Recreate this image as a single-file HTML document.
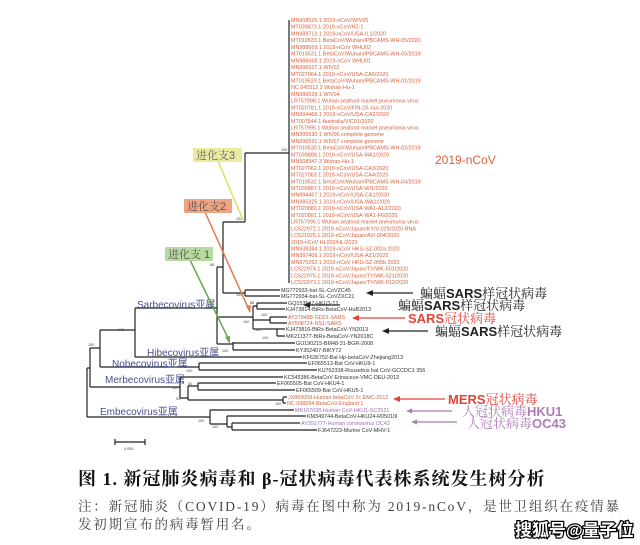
<!DOCTYPE html>
<html><head><meta charset="utf-8"><style>
body{margin:0;background:#fff;}
svg{display:block}
.l{font-family:"Liberation Sans",sans-serif;font-size:5.4px;}
.r{fill:#d8603c}
.k{fill:#333}
.p{fill:#a070b0}
.b{font-family:"Liberation Sans",sans-serif;font-size:3.8px;fill:#444}
.c{font-family:"Liberation Sans","Noto Sans CJK SC",sans-serif;font-size:10px;fill:#4a4f8f}
.a{font-family:"Liberation Sans","Noto Serif CJK SC",serif;font-size:13px}
</style></head><body>
<svg width="640" height="545" viewBox="0 0 640 545" xmlns="http://www.w3.org/2000/svg">
<g stroke="#222" stroke-width="1.2" fill="none">
<path d="M289 20V283 M245 153H289 M245 153V222 M223 222H245 M223 222V293 M223 293H245 M245 290V296 M245 290H280 M245 296H280"/>
<path d="M217 267H223 M217 267V344 M135 308H217"/>
<path d="M217 317H253 M253 306V329 M253 306H257 M257 303V309 M257 303H287 M257 309H285 M253 320H270 M270 317V323 M270 317H287 M270 323H287 M253 329H277 M277 329V336 M277 329H285 M277 336H285"/>
<path d="M217 344H233 M233 342V350 M233 343H295 M233 350H295 M135 308V357 M135 357H302"/>
<path d="M100 330H135 M100 330V367 M100 367H199 M199 363V370 M199 363H307 M199 370H317"/>
<path d="M90 348H100 M90 348V387 M87 368H90 M87 368V417"/>
<path d="M90 387H180 M180 377V398 M180 377H283 M180 398H188 M188 386V400 M188 386H198 M198 383V390 M198 383H276 M198 390H295 M188 400H283 M283 397V403 M283 397H287 M283 403H286"/>
<path d="M87 417H210 M210 410V424 M210 410H294 M210 424H227 M227 416V427 M227 416H306 M227 427H232 M232 423V430 M232 423H300 M232 430H317"/>
<path d="M115 442H145 M115 439V445 M145 439V445"/>
</g>
<text x="124" y="450" class="b">0.050</text>
<g class="b">
<text x="281" y="151">100</text><text x="236" y="220">100</text><text x="210" y="266">88</text><text x="207" y="306">100</text>
<text x="236" y="296">100</text><text x="250" y="304">88</text><text x="243" y="323">100</text><text x="255" y="331">100</text><text x="261" y="316">100</text><text x="262" y="339">100</text><text x="222" y="352">100</text>
<text x="118" y="331">100</text><text x="88" y="346">100</text><text x="186" y="372">100</text><text x="172" y="389">100</text><text x="188" y="385">81</text><text x="176" y="400">93</text><text x="275" y="405">100</text><text x="198" y="422">100</text><text x="212" y="428">100</text>
</g>
<g class="l r">
<text x="291" y="22">MN908526.1 2019-nCoV/WIV05</text>
<text x="291" y="28.7">MT039873.1 2019-nCoV/HZ-1</text>
<text x="291" y="35.4">MN988713.1 2019-nCoV/USA-IL1/2020</text>
<text x="291" y="42.2">MT019533.1 BetaCoV/Wuhan/IPBCAMS-WH-05/2020</text>
<text x="291" y="48.9">MN988669.1 2019-nCoV WHU02</text>
<text x="291" y="55.6">MT019531.1 BetaCoV/Wuhan/IPBCAMS-WH-03/2019</text>
<text x="291" y="62.3">MN988668.1 2019-nCoV WHU01</text>
<text x="291" y="69">MN996527.1 WIV02</text>
<text x="291" y="75.8">MT027064.1 2019-nCoV/USA-CA5/2020</text>
<text x="291" y="82.5">MT019529.1 BetaCoV/Wuhan/IPBCAMS-WH-01/2019</text>
<text x="291" y="89.2">NC 045512.2 Wuhan-Hu-1</text>
<text x="291" y="95.9">MN996528.1 WIV04</text>
<text x="291" y="102.6">LR757998.1 Wuhan seafood market pneumonia virus</text>
<text x="291" y="109.4">MT020781.1 2019-nCoV/FIN-29-Jan-2020</text>
<text x="291" y="116.1">MN994468.1 2019-nCoV/USA-CA2/2020</text>
<text x="291" y="122.8">MT007544.1 Australia/VIC01/2020</text>
<text x="291" y="129.5">LR757995.1 Wuhan seafood market pneumonia virus</text>
<text x="291" y="136.2">MN996530.1 WIV06 complete genome</text>
<text x="291" y="143">MN996531.1 WIV07 complete genome</text>
<text x="291" y="149.7">MT019530.1 BetaCoV/Wuhan/IPBCAMS-WH-02/2019</text>
<text x="291" y="156.4">MT039888.1 2019-nCoV/USA-MA1/2020</text>
<text x="291" y="163.1">MN908947.3 Wuhan-Hu-1</text>
<text x="291" y="169.8">MT027062.1 2019-nCoV/USA-CA3/2020</text>
<text x="291" y="176.6">MT027063.1 2019-nCoV/USA-CA4/2020</text>
<text x="291" y="183.3">MT019532.1 BetaCoV/Wuhan/IPBCAMS-WH-04/2019</text>
<text x="291" y="190">MT039887.1 2019-nCoV/USA-WI1/2020</text>
<text x="291" y="196.7">MN994467.1 2019-nCoV/USA-CA1/2020</text>
<text x="291" y="203.4">MN985325.1 2019-nCoV/USA-WA1/2020</text>
<text x="291" y="210.2">MT020880.1 2019-nCoV/USA-WA1-A12/2020</text>
<text x="291" y="216.9">MT020881.1 2019-nCoV/USA-WA1-F6/2020</text>
<text x="291" y="223.6">LR757996.1 Wuhan seafood market pneumonia virus</text>
<text x="291" y="230.3">LC522972.1 2019-nCoV/Japan/KY/V-029/2020 RNA</text>
<text x="291" y="237">LC521925.1 2019-nCoV/Japan/AI/I-004/2020</text>
<text x="291" y="243.8">2019-nCoV HL002/HL/2020</text>
<text x="291" y="250.5">MN938384.1 2019-nCoV HKU-SZ-002a 2020</text>
<text x="291" y="257.2">MN997409.1 2019-nCoV/USA-AZ1/2020</text>
<text x="291" y="263.9">MN975262.1 2019-nCoV HKU-SZ-005b 2020</text>
<text x="291" y="270.6">LC522974.1 2019-nCoV/Japan/TY/WK-501/2020</text>
<text x="291" y="277.4">LC522975.1 2019-nCoV/Japan/TY/WK-521/2020</text>
<text x="291" y="284.1">LC522973.1 2019-nCoV/Japan/TY/WK-012/2020</text>
</g>
<g class="l k">
<text x="281" y="292">MG772933-bat-SL-CoVZC45</text>
<text x="281" y="298">MG772934-bat-SL-CoVZXC21</text>
<text x="288" y="305">GQ153547-HKU3-12</text>
<text x="286" y="311">KJ473814-BtRs-BetaCoV-HuB2013</text>
<text x="286" y="331">KJ473816-BtRs-BetaCoV-YN2013</text>
<text x="286" y="338">MK211377-BtRs-BetaCoV-YN2018C</text>
<text x="296" y="345">GU190215-BM48-31-BGR-2008</text>
<text x="296" y="352">KY352407-BtKY72</text>
<text x="303" y="359">KF636752-Bat Hp-betaCoV-Zhejiang2013</text>
<text x="308" y="365">EF065513-Bat CoV-HKU9-1</text>
<text x="318" y="372">KU762338-Rousettus bat CoV-GCCDC1 356</text>
<text x="284" y="379">KC545386-BetaCoV Erinaceus-VMC-DEU-2013</text>
<text x="277" y="385">EF065505-Bat CoV-HKU4-1</text>
<text x="296" y="392">EF065509-Bat CoV-HKU5-1</text>
<text x="307" y="418">KM349744-BetaCoV-HKU24-R05010I</text>
<text x="318" y="432">FJ647223-Murine CoV-MHV-1</text>
</g>
<g class="l r">
<text x="288" y="319">AY278488-GD01-SARS</text>
<text x="288" y="325">AY508724-NS1-SARS</text>
<text x="288" y="399">JX869059-Human betaCoV 2c EMC-2012</text>
<text x="287" y="405">NC 038294-BetaCoV-England 1</text>
</g>
<g class="l p">
<text x="295" y="412">MK167038-Human CoV-HKU1-SC2521</text>
<text x="301" y="425">AY391777-Human coronavirus OC43</text>
</g>
<text x="435" y="164" style="font-family:'Liberation Sans',sans-serif;font-size:12px;fill:#d8603c">2019-nCoV</text>
<text x="137" y="308" class="c">Sarbecovirus亚属</text>
<text x="147" y="356" class="c">Hibecovirus亚属</text>
<text x="112" y="367" class="c">Nobecovirus亚属</text>
<text x="105" y="383" class="c">Merbecovirus亚属</text>
<text x="100" y="415" class="c">Embecovirus亚属</text>
<line x1="218" y1="161" x2="243" y2="220" stroke="#dede60" stroke-width="1.5"/>
<line x1="205" y1="212" x2="250" y2="312" stroke="#e07a50" stroke-width="1.5"/>
<path d="M246 306l4 7 1-8z" fill="#e07a50"/>
<line x1="190" y1="260" x2="229" y2="340" stroke="#6aa84f" stroke-width="1.5"/>
<path d="M225 337l5 7 0-8z" fill="#6aa84f"/>
<rect x="193" y="148" width="49" height="14" fill="#e8eba0"/>
<text x="196" y="159" style="font-family:'Liberation Sans','Noto Serif CJK SC',serif;font-size:11px;fill:#666">进化支3</text>
<rect x="184" y="199" width="48" height="14" fill="#f0a484"/>
<text x="187" y="210" style="font-family:'Liberation Sans','Noto Serif CJK SC',serif;font-size:11px;fill:#555">进化支2</text>
<rect x="165" y="247" width="48" height="14" fill="#b8d9a0"/>
<text x="168" y="258" style="font-family:'Liberation Sans','Noto Serif CJK SC',serif;font-size:11px;fill:#555">进化支 1</text>
<g stroke-width="1.3">
<line x1="372" y1="293" x2="413" y2="293" stroke="#222"/><path d="M366 293l7-3v6z" fill="#222"/>
<line x1="309" y1="305" x2="340" y2="305" stroke="#222"/><path d="M303 305l7-3v6z" fill="#222"/>
<line x1="358" y1="318" x2="405" y2="318" stroke="#e0443a"/><path d="M352 318l7-3v6z" fill="#e0443a"/>
<line x1="388" y1="331" x2="428" y2="331" stroke="#222"/><path d="M382 331l7-3v6z" fill="#222"/>
<line x1="399" y1="399" x2="445" y2="399" stroke="#e0443a"/><path d="M393 399l7-3v6z" fill="#e0443a"/>
<line x1="412" y1="411" x2="452" y2="411" stroke="#b07ab8"/><path d="M406 411l6-2.5v5z" fill="#b07ab8"/>
<line x1="417" y1="422" x2="457" y2="422" stroke="#b07ab8"/><path d="M411 422l6-2.5v5z" fill="#b07ab8"/>
</g>
<text x="420" y="298" class="a" fill="#222">蝙蝠<tspan font-weight="bold">SARS</tspan>样冠状病毒</text>
<text x="398" y="310" class="a" fill="#222">蝙蝠<tspan font-weight="bold">SARS</tspan>样冠状病毒</text>
<text x="408" y="323" class="a" fill="#e0443a"><tspan font-weight="bold">SARS</tspan>冠状病毒</text>
<text x="435" y="336" class="a" fill="#222">蝙蝠<tspan font-weight="bold">SARS</tspan>样冠状病毒</text>
<text x="448" y="404" class="a" fill="#e0443a"><tspan font-weight="bold">MERS</tspan>冠状病毒</text>
<text x="462" y="416" class="a" fill="#b07ab8">人冠状病毒<tspan font-weight="bold">HKU1</tspan></text>
<text x="467" y="428" class="a" fill="#b07ab8">人冠状病毒<tspan font-weight="bold">OC43</tspan></text>
<text x="78" y="485" style="font-family:'Liberation Serif','Noto Serif CJK SC',serif;font-size:18px;letter-spacing:1px;font-weight:bold;fill:#111">图 1. 新冠肺炎病毒和 β-冠状病毒代表株系统发生树分析</text>
<text x="78" y="511" style="font-family:'Liberation Serif','Noto Serif CJK SC',serif;font-size:13.5px;letter-spacing:1.8px;fill:#444">注：新冠肺炎（COVID-19）病毒在图中称为 2019-nCoV，是世卫组织在疫情暴</text>
<text x="78" y="529" style="font-family:'Liberation Serif','Noto Serif CJK SC',serif;font-size:13.5px;letter-spacing:1.8px;fill:#444">发初期宣布的病毒暂用名。</text>
<text x="515" y="536" style="font-family:'Liberation Sans','Noto Sans CJK SC',sans-serif;font-size:17px;font-weight:bold;fill:#fff;stroke:#000;stroke-width:2.5;paint-order:stroke">搜狐号@量子位</text>
</svg>
</body></html>
